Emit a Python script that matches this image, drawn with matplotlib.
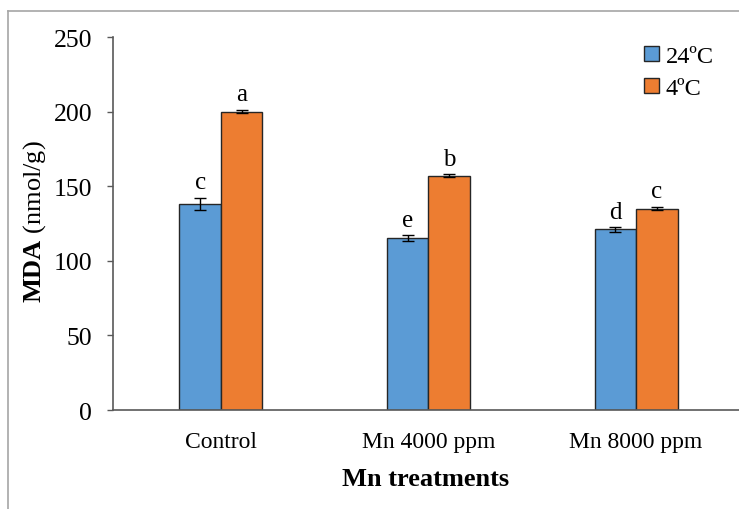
import numpy as np
import matplotlib
matplotlib.use('Agg')
import matplotlib.pyplot as plt
from matplotlib.lines import Line2D

plt.rcParams['font.family'] = 'Liberation Serif'
plt.rcParams['mathtext.fontset'] = 'custom'
plt.rcParams['mathtext.rm'] = 'Liberation Serif'
plt.rcParams['mathtext.bf'] = 'Liberation Serif:bold'

treatments = ['Control', 'Mn 4000 ppm', 'Mn 8000 ppm']
mda_24 = [138, 115, 121]
mda_4 = [200, 157, 135]
err_24 = [4, 2, 1.5]
err_4 = [1, 1, 1]
letters_24 = ['c', 'e', 'd']
letters_4 = ['a', 'b', 'c']

fig = plt.figure(figsize=(7.39, 5.10), dpi=100)
ax = fig.add_axes([113/739, 1 - 411/510, 1 - 113/739, (411 - 38)/510])

x = np.arange(len(treatments))
w = 0.2
ekw = dict(ecolor='black', elinewidth=1, capsize=4, capthick=1)
ax.bar(x - w/2, mda_24, w, yerr=err_24, color='#5B9BD5', edgecolor='#262626',
       linewidth=1, error_kw=ekw, label='24ºC', zorder=2)
ax.bar(x + w/2, mda_4, w, yerr=err_4, color='#ED7D31', edgecolor='#262626',
       linewidth=1, error_kw=ekw, label='4ºC', zorder=2)

# significance letters above each bar
for xs, vals, errs, labs in [(x - w/2, mda_24, err_24, letters_24),
                             (x + w/2, mda_4, err_4, letters_4)]:
    for xi, v, e, t in zip(xs, vals, errs, labs):
        ax.annotate(t, (xi, v + e), xytext=(0, 7), textcoords='offset points',
                    ha='center', va='baseline', fontsize=18)

ax.set_ylim(0, 250)
ax.set_yticks(np.arange(0, 251, 50))
ax.set_xlim(-0.52, 2.496)
ax.set_xticks(x)
ax.set_xticklabels(treatments, fontsize=17)
ax.tick_params(axis='x', length=0, pad=15)
ax.tick_params(axis='y', labelsize=18.5, length=4, width=1, color='#595959', pad=11)
for s in ['top', 'right']:
    ax.spines[s].set_visible(False)
for s in ['left', 'bottom']:
    ax.spines[s].set_color('#595959')
    ax.spines[s].set_linewidth(1.2)

ax.set_xlabel('Mn treatments', fontsize=19, fontweight='bold', labelpad=11)
fig.text(35/739, 1 - 222/510, r'$\mathbf{MDA}$ (nmol/g)', rotation=90,
         ha='center', va='center', fontsize=19)

ax.legend(loc='upper right', bbox_to_anchor=(0.995, 1.035), frameon=False, fontsize=17.5,
          handlelength=0.6, handleheight=0.6, handletextpad=0.3, labelspacing=0.45)

# outer chart frame
fx, fy = 8/739, 1 - 12/510
fig.add_artist(Line2D([fx, fx], [0, fy], color='#a6a6a6', lw=1.2, transform=fig.transFigure))
fig.add_artist(Line2D([fx, 1], [fy, fy], color='#a6a6a6', lw=1.2, transform=fig.transFigure))

fig.savefig('out.png', dpi=100)
